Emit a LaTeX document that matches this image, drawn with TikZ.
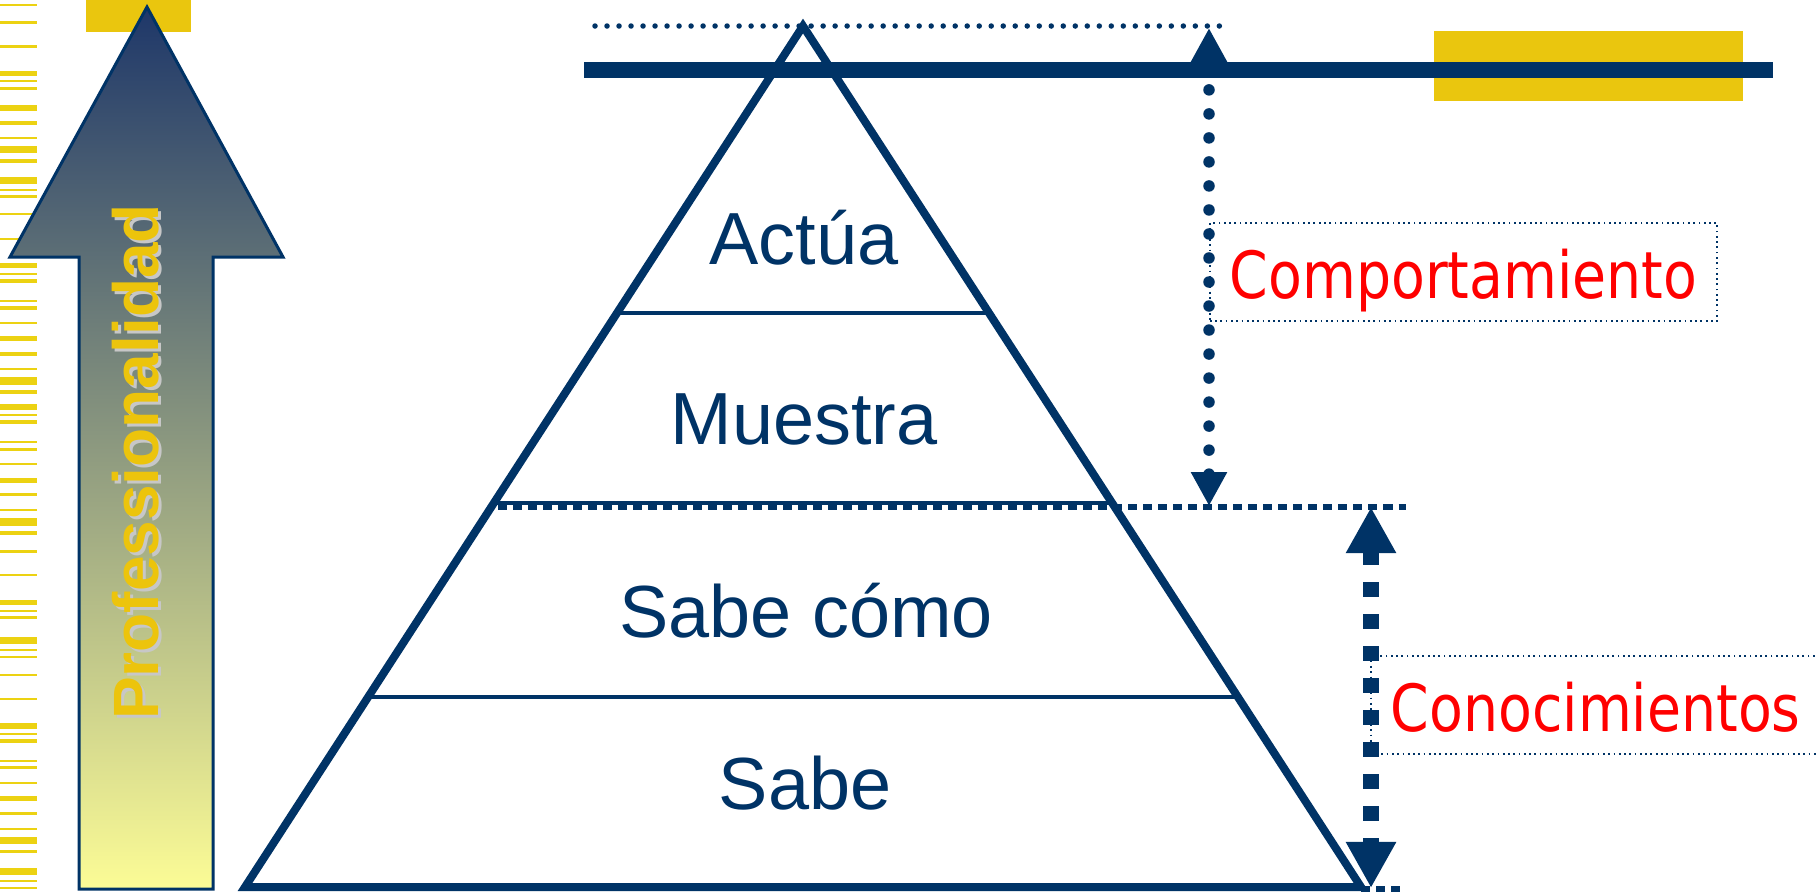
\documentclass[tikz,border=0pt]{standalone}
\usepackage{fontspec}
\setmainfont{Liberation Sans}
\newfontfamily\labelfont[FakeStretch=0.85]{DejaVu Sans}
\usetikzlibrary{arrows.meta,calc}

\definecolor{navy}{RGB}{0,51,102}
\definecolor{gold}{RGB}{234,198,14}
\definecolor{stripeYellow}{RGB}{236,210,18}
\definecolor{arrowTop}{RGB}{30,55,105}
\definecolor{arrowBottom}{RGB}{252,252,150}
\definecolor{textGold}{RGB}{236,196,12}

\tikzstyle{levelText} = [anchor=base, text=navy, font={\fontsize{21}{24}\selectfont}]
\tikzstyle{redLabel} = [anchor=west, draw=navy, densely dotted, line width=0.5pt, text=red, font={\labelfont\fontsize{18.5}{22}\selectfont}, inner xsep=0.2cm, minimum height=0.98cm, text height=14.8pt, text depth=0pt]
\tikzstyle{profText} = [anchor=base, rotate=90, font={\bfseries\fontsize{18.2}{20}\selectfont}]
\tikzstyle{pyramid} = [draw=navy, line width=0.08cm]
\tikzstyle{levelLine} = [navy, line width=0.035cm]
\tikzstyle{squareDots} = [navy, line width=0.055cm, dash pattern=on 0.09cm off 0.06cm]
\tikzstyle{roundDots} = [navy, line width=0.055cm, line cap=round, dash pattern=on 0pt off 0.12cm]
\tikzstyle{behaviourArrow} = [navy, line width=0.115cm, line cap=round, dash pattern=on 0pt off 0.24cm, >={Triangle[width=0.34cm,length=0.34cm]}, <->]
\tikzstyle{knowledgeArrow} = [navy, line width=0.16cm, dash pattern=on 0.15cm off 0.17cm, >={Triangle[width=0.47cm,length=0.46cm]}, <->]

\begin{document}
\begin{tikzpicture}[x=0.01cm, y=-0.01cm]
    \useasboundingbox (0,0) rectangle (1816,893);
    \fill[white] (0,0) rectangle (1816,893);
    % yellow bars on the left edge
    \foreach \ya/\yb in {4/6,21/24,45/48,71/76,80/82,87/90,105/111,121/125,137/139,146/153,159/163,177/184,189/191,195/198,213/215,238/240,263/268,273/275,279/283,300/302,306/310,322/324,336/341,352/356,368/370,377/385,390/394,404/410,414/416,420/424,441/443,448/451,463/465,478/483,493/496,509/511,518/526,531/535,550/553,574/576,600/605,610/612,616/619,637/644,649/651,656/658,674/676,698/700,723/729,733/735,739/743,760/762,766/769,782/784,796/801,812/815,828/830,837/844,850/853,868/875,880/882,887/889}
        \fill[stripeYellow] (0,\ya) rectangle (37,\yb);
    \fill[gold] (86,0) rectangle (191,32);
    \fill[gold] (1434,31) rectangle (1743,101);

    % big arrow
    \draw[navy, line width=0.03cm, top color=arrowTop, bottom color=arrowBottom]
        (147,7) -- (283,257) -- (213,257) -- (213,889) -- (79,889) -- (79,257) -- (10,257) -- cycle;
    \node[profText, text=black!22] (profShadow) at (161,465) {Professionalidad};
    \node[profText, text=textGold] (prof) at (158,462) {Professionalidad};

    % level marks
    \coordinate (topL) at (595,26);
    \coordinate (topR) at (1225,26);
    \coordinate (midL) at (498,507);
    \coordinate (midR) at (1406,507);
    \coordinate (botL) at (1361,889);
    \coordinate (botR) at (1406,889);
    \draw[roundDots] (topL) -- (topR);
    \draw[squareDots] (midL) -- (midR);
    \draw[squareDots] (botL) -- (botR);
    \draw[navy, line width=0.16cm] (584,70) -- (1773,70);

    % pyramid
    \coordinate (apex) at (803,26);
    \coordinate (baseL) at (245,887);
    \coordinate (baseR) at (1361,887);
    \draw[pyramid] (apex) -- (baseR) -- (baseL) -- cycle;
    \foreach \f in {0.3333,0.5540,0.7793}
        \draw[levelLine] ($(apex)!\f!(baseL)$) -- ($(apex)!\f!(baseR)$);
    \node[levelText] (actua) at (804,264) {Actúa};
    \node[levelText] (muestra) at (804,444) {Muestra};
    \node[levelText] (sabeComo) at (806,637) {Sabe cómo};
    \node[levelText] (sabe) at (805,809) {Sabe};

    % ranges
    \coordinate (compTop) at (1209,28);
    \coordinate (compBot) at (1209,506);
    \coordinate (conoTop) at (1371,507);
    \coordinate (conoBot) at (1371,888);
    \draw[behaviourArrow] (compBot) -- (compTop);
    \draw[knowledgeArrow] (conoTop) -- (conoBot);
    \node[redLabel] (comp) at (1209,272) {Comportamiento};
    \node[redLabel] (cono) at (1370,705) {Conocimientos};
\end{tikzpicture}
\end{document}
